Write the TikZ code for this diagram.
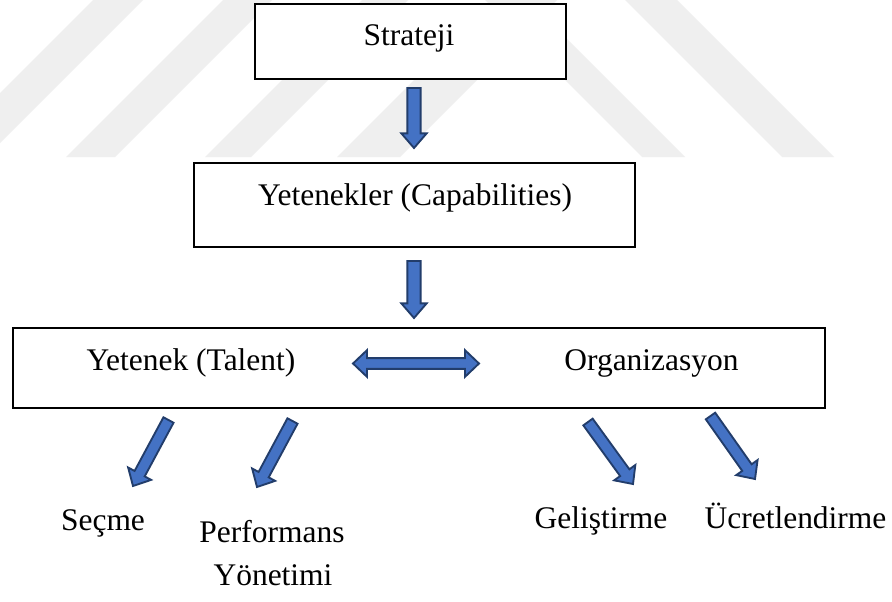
\documentclass[tikz,border=0pt]{standalone}
\usepackage{fontspec}
\setmainfont{Liberation Serif}
\usetikzlibrary{calc}

\definecolor{arrowfill}{HTML}{4472C4}
\definecolor{arrowline}{HTML}{223D6B}
\definecolor{stripegray}{HTML}{EFEFEF}

\tikzset{
  box/.style={draw=black, line width=1.6pt, fill=white, rectangle, inner sep=0pt},
  lbl/.style={anchor=base, inner sep=0pt, font=\fontsize{23.6}{28}\selectfont},
  blockarrow/.style={fill=arrowfill, draw=arrowline, line width=1.4pt, line join=miter},
  stripe/.style={fill=stripegray, draw=none},
}

% single block arrow: #1 tail, #2 tip, #3 shaft half width, #4 head half width, #5 head length
\newcommand\blockarrow[5]{%
  \coordinate (bhead) at ($(#2)!#5!(#1)$);
  \draw[blockarrow] ($(#1)!#3!90:(#2)$) -- ($(bhead)!#3!90:(#2)$)
    -- ($(bhead)!#4!90:(#2)$) -- (#2) -- ($(bhead)!#4!-90:(#2)$)
    -- ($(bhead)!#3!-90:(#2)$) -- ($(#1)!#3!-90:(#2)$) -- cycle;
}
% double block arrow: #1 left tip, #2 right tip, #3 shaft half width, #4 head half width, #5 head length
\newcommand\doubleblockarrow[5]{%
  \coordinate (bl) at ($(#1)!#5!(#2)$);
  \coordinate (br) at ($(#2)!#5!(#1)$);
  \draw[blockarrow] (#1) -- ($(bl)!#4!90:(#2)$) -- ($(bl)!#3!90:(#2)$)
    -- ($(br)!#3!-90:(#1)$) -- ($(br)!#4!-90:(#1)$) -- (#2)
    -- ($(br)!#4!90:(#1)$) -- ($(br)!#3!90:(#1)$)
    -- ($(bl)!#3!-90:(#2)$) -- ($(bl)!#4!-90:(#2)$) -- cycle;
}

\begin{document}
\begin{tikzpicture}[x=0.75pt, y=-0.75pt]
  \useasboundingbox[fill=white] (0,0) rectangle (892,601);

  % faint diagonal background stripes
  \fill[stripe] (93,0) -- (143,0) -- (0,143) -- (0,93) -- cycle;
  \fill[stripe] (223,0) -- (272,0) -- (115,157) -- (66,157) -- cycle;
  \fill[stripe] (362,0) -- (408,0) -- (251,157) -- (205,157) -- cycle;
  \fill[stripe] (494,0) -- (557,0) -- (400,157) -- (337,157) -- cycle;
  \fill[stripe] (485,0) -- (528,0) -- (685,157) -- (642,157) -- cycle;
  \fill[stripe] (625,0) -- (677,0) -- (834,157) -- (782,157) -- cycle;

  % boxes
  \node[box, minimum width=233.25pt, minimum height=56.25pt] (strateji) at (410.5,41.5) {};
  \node[box, minimum width=330.75pt, minimum height=63pt] (yetenekler) at (414.5,205) {};
  \node[box, minimum width=609pt, minimum height=60pt] (alt) at (419,368) {};

  % box texts
  \node[lbl] (tstrateji) at (409,45) {Strateji};
  \node[lbl] (tyetenekler) at (415,205) {Yetenekler (Capabilities)};
  \node[lbl] (ttalent) at (191,370) {Yetenek (Talent)};
  \node[lbl] (torg) at (651.5,370) {Organizasyon};

  % bottom labels
  \node[lbl] (secme) at (103,530) {Seçme};
  \node[lbl] (perf) at (272,542) {Performans};
  \node[lbl] (yon) at (273,585) {Yönetimi};
  \node[lbl] (gelis) at (601,528) {Geliştirme};
  \node[lbl] (ucret) at (795.5,528) {Ücretlendirme};

  % arrow end points
  \coordinate (a1t) at (414,88);    \coordinate (a1h) at (414,148);
  \coordinate (a2t) at (414,261);   \coordinate (a2h) at (414,318);
  \coordinate (dl) at (353,363.5);  \coordinate (dr) at (479,363.5);
  \coordinate (s1t) at (168.5,420); \coordinate (s1h) at (133,486);
  \coordinate (s2t) at (292.5,421); \coordinate (s2h) at (257,487);
  \coordinate (g1t) at (588,422);   \coordinate (g1h) at (633,484);
  \coordinate (g2t) at (710.5,416); \coordinate (g2h) at (755,479);

  % arrows
  \blockarrow{a1t}{a1h}{5pt}{9.5pt}{11pt}
  \blockarrow{a2t}{a2h}{5pt}{9.5pt}{11pt}
  \doubleblockarrow{dl}{dr}{4pt}{10pt}{10.5pt}
  \blockarrow{s1t}{s1h}{4.3pt}{9.8pt}{10.5pt}
  \blockarrow{s2t}{s2h}{4.3pt}{9.8pt}{10.5pt}
  \blockarrow{g1t}{g1h}{4.3pt}{9.8pt}{10.5pt}
  \blockarrow{g2t}{g2h}{4.3pt}{9.8pt}{10.5pt}
\end{tikzpicture}
\end{document}
